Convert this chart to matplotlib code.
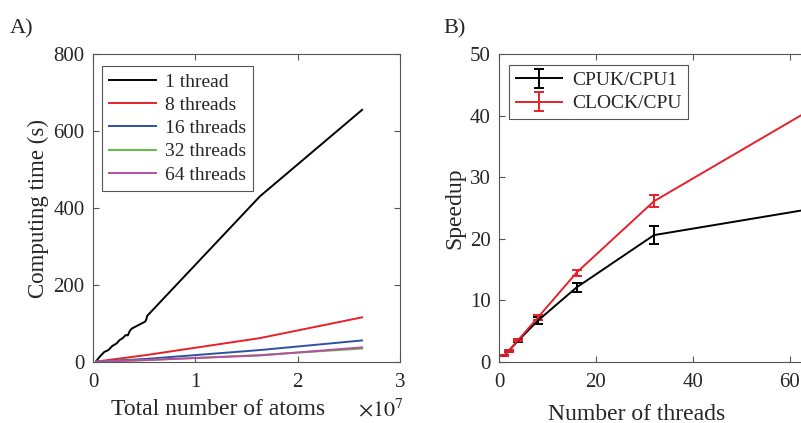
# -*- coding: utf-8 -*-
"""
Время расчёта и ускорение в зависимости от числа потоков.
"""

import matplotlib
matplotlib.use('Agg')
import matplotlib.pyplot as plt

# A) время расчёта, атомы в единицах 1e7
atoms_1 = [0.03, 0.07, 0.11, 0.15, 0.19, 0.23, 0.26, 0.29, 0.32, 0.34,
           0.36, 0.38, 0.51, 0.52, 0.53, 1.63, 2.63]
time_1 = [2, 15, 26, 31, 42, 48, 57, 62, 70, 69, 81, 87, 105, 110, 120, 430, 655]
atoms_n = [0.03, 0.52, 1.63, 2.63]
time_8 = [1, 18, 62, 116]
time_16 = [1, 8, 31, 56]
time_32 = [0.5, 5, 18, 35]
time_64 = [0.5, 5, 17, 38]
labels_a = ['1 thread', '8 threads', '16 threads', '32 threads', '64 threads']

# B) ускорение
threads = [1, 2, 4, 8, 16, 32, 64]
speed_cpuk = [1.0, 1.8, 3.5, 6.7, 12.1, 20.6, 24.8]
err_cpuk = [0.1, 0.2, 0.3, 0.6, 0.8, 1.5, 1.5]
speed_clock = [1.0, 1.8, 3.6, 7.2, 14.5, 26.1, 40.8]
err_clock = [0.1, 0.15, 0.2, 0.4, 0.5, 1.0, 1.0]
labels_b = ['CPUK/CPU1', 'CLOCK/CPU']

colors = ['black', '#e8202a', '#3050a8', '#5cbf40', '#b84da0']

plt.rcParams['font.family'] = ['Liberation Serif', 'DejaVu Serif']
plt.rcParams['mathtext.fontset'] = 'stix'
plt.rcParams['text.color'] = '#262626'
plt.rcParams['axes.labelcolor'] = '#262626'
plt.rcParams['xtick.color'] = '#262626'
plt.rcParams['ytick.color'] = '#262626'


def style_axes(ax):
    """Оформление осей в стиле MATLAB."""
    for spine in ax.spines.values():
        spine.set_color('#555555')
        spine.set_linewidth(0.8)
    ax.tick_params(direction='in', top=True, right=True, length=4,
                   width=0.8, labelsize=15, color='#555555')
    ax.tick_params(axis='x', pad=8)
    ax.tick_params(axis='y', pad=6)


def make_legend(ax, x0, y0):
    """Легенда в рамке, как в MATLAB."""
    leg = ax.legend(loc='upper left', bbox_to_anchor=(x0, y0), fontsize=14,
                    handlelength=2.4, handletextpad=0.5, labelspacing=0.29,
                    borderpad=0.35, fancybox=False, framealpha=1,
                    edgecolor='#555555', borderaxespad=0)
    leg.get_frame().set_linewidth(0.8)
    return leg


fig = plt.figure(figsize=(8.01, 4.23), dpi=100)

# ---- панель A
ax1 = fig.add_axes([93 / 801, 61 / 423, 307 / 801, 308 / 423])
ax1.plot(atoms_1, time_1, color=colors[0], lw=1.4, label=labels_a[0])
for ys, c, lab in zip([time_8, time_16, time_32, time_64], colors[1:], labels_a[1:]):
    ax1.plot(atoms_n, ys, color=c, lw=1.4, label=lab)
ax1.set_xlim(0, 3)
ax1.set_ylim(0, 800)
ax1.set_xticks([0, 1, 2, 3])
ax1.set_yticks([0, 200, 400, 600, 800])
ax1.set_xlabel('Total number of atoms', fontsize=17)
ax1.xaxis.set_label_coords(0.407, -0.12, transform=ax1.transAxes)
ax1.xaxis.label.set_va('top')
ax1.set_ylabel('Computing time (s)', fontsize=16.5, labelpad=3)
style_axes(ax1)
make_legend(ax1, 0.03, 0.96)
ax1.text(1.013, -0.175, r'$\times10^{7}$', transform=ax1.transAxes,
         ha='right', va='baseline', fontsize=16, color='#262626')
fig.text(10 / 801, 1 - 33 / 423, 'A)', fontsize=16, color='#262626')

# ---- панель B
ax2 = fig.add_axes([499 / 801, 61 / 423, 310 / 801, 308 / 423])
ax2.errorbar(threads, speed_cpuk, yerr=err_cpuk, color=colors[0], lw=1.4,
             elinewidth=1.4, capsize=3.3, capthick=1.4, label=labels_b[0])
ax2.errorbar(threads, speed_clock, yerr=err_clock, color=colors[1], lw=1.4,
             elinewidth=1.4, capsize=3.3, capthick=1.4, label=labels_b[1])
ax2.set_xlim(0, 64)
ax2.set_ylim(0, 50)
ax2.set_xticks([0, 20, 40, 60])
ax2.set_yticks([0, 10, 20, 30, 40, 50])
ax2.set_xlabel('Number of threads', fontsize=17)
ax2.xaxis.set_label_coords(0.445, -0.135, transform=ax2.transAxes)
ax2.xaxis.label.set_va('top')
ax2.set_ylabel('Speedup', fontsize=17, labelpad=3)
style_axes(ax2)
make_legend(ax2, 0.032, 0.965)
fig.text(443 / 801, 1 - 33 / 423, 'B)', fontsize=16, color='#262626')

fig.savefig('out.png', dpi=100)
plt.close(fig)
